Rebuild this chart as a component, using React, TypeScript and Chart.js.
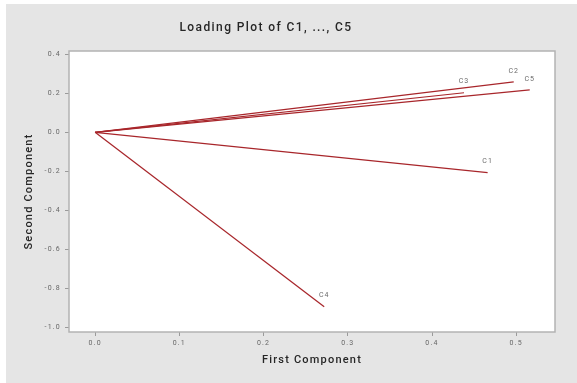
import { useEffect, useRef } from "react";
import { Chart, registerables } from "chart.js";

Chart.register(...registerables);

const variableNames = ["C1", "C2", "C3", "C4", "C5"];
const firstComponent = [0.466, 0.497, 0.438, 0.272, 0.516];
const secondComponent = [-0.207, 0.259, 0.203, -0.894, 0.218];
const xTickValues = [0, 0.1, 0.2, 0.3, 0.4, 0.5];
const yTickValues = [0.4, 0.2, 0, -0.2, -0.4, -0.6, -0.8, -1.0];
const chartTitle = "Loading Plot of C1, ..., C5";
const xAxisTitle = "First Component";
const yAxisTitle = "Second Component";

const LINE_COLOR = "#a8262b";
const FONT = "Roboto, 'Liberation Sans', sans-serif";

export default function App() {
  const canvasRef = useRef<HTMLCanvasElement | null>(null);

  useEffect(() => {
    const canvas = canvasRef.current;
    if (!canvas) return;

    const backgroundPlugin = {
      id: "bgFrame",
      beforeDraw(chart: any) {
        const { ctx, chartArea } = chart;
        ctx.save();
        ctx.fillStyle = "#e5e5e5";
        ctx.fillRect(6, 4, chart.width - 6, chart.height - 4);
        ctx.fillStyle = "#ffffff";
        ctx.fillRect(chartArea.left, chartArea.top, chartArea.right - chartArea.left, chartArea.bottom - chartArea.top);
        ctx.restore();
        ctx.letterSpacing = "1.2px";
        // main title
        ctx.save();
        ctx.letterSpacing = "1.4px";
        ctx.font = `500 12px ${FONT}`;
        ctx.fillStyle = "#262626";
        ctx.textAlign = "center";
        ctx.textBaseline = "middle";
        ctx.fillText(chartTitle, 266, 28);
        ctx.restore();
      },
      beforeDatasetsDraw(chart: any) {
        const { ctx, chartArea } = chart;
        ctx.save();
        ctx.strokeStyle = "#b3b3b3";
        ctx.lineWidth = 1.5;
        ctx.strokeRect(chartArea.left, chartArea.top, chartArea.right - chartArea.left, chartArea.bottom - chartArea.top);
        ctx.restore();
      },
      afterDatasetsDraw(chart: any) {
        const { ctx } = chart;
        const xs = chart.scales.x;
        const ys = chart.scales.y;
        ctx.save();
        ctx.letterSpacing = "1px";
        ctx.font = `7px ${FONT}`;
        ctx.fillStyle = "#6a6a6a";
        ctx.textAlign = "center";
        ctx.textBaseline = "middle";
        variableNames.forEach((name, i) => {
          const px = xs.getPixelForValue(firstComponent[i]);
          const py = ys.getPixelForValue(secondComponent[i]);
          ctx.fillText(name, px, py - 11);
        });
        ctx.restore();
      },
    };

    const datasets = variableNames.map((name, i) => ({
      label: name,
      data: [
        { x: 0, y: 0 },
        { x: firstComponent[i], y: secondComponent[i] },
      ],
      showLine: true,
      borderColor: LINE_COLOR,
      backgroundColor: LINE_COLOR,
      borderWidth: 1.2,
      pointRadius: 0,
    }));

    const chart = new Chart(canvas, {
      type: "scatter",
      data: { datasets },
      options: {
        animation: false,
        responsive: false,
        layout: { padding: { left: 14, right: 22, top: 51, bottom: 12 } },
        plugins: {
          legend: { display: false },
          title: { display: false, text: chartTitle },
          tooltip: { enabled: false },
        },
        scales: {
          x: {
            type: "linear",
            min: -0.031,
            max: 0.546,
            afterBuildTicks: (s: any) => {
              s.ticks = xTickValues.map((v) => ({ value: v }));
            },
            afterFit: (s: any) => {
              s.height = 39;
            },
            ticks: {
              callback: (v: any) => Number(v).toFixed(1),
              font: { size: 7, family: FONT },
              color: "#666666",
              padding: 3,
              maxRotation: 0,
            },
            grid: { drawOnChartArea: false, drawTicks: true, tickLength: 4, color: "#9a9a9a" },
            border: { display: false },
            title: {
              display: true,
              text: xAxisTitle,
              font: { size: 11, weight: "500", family: FONT },
              color: "#262626",
              padding: { top: 0, bottom: 4 },
            },
          },
          y: {
            type: "linear",
            min: -1.024,
            max: 0.417,
            afterBuildTicks: (s: any) => {
              s.ticks = yTickValues.map((v) => ({ value: v }));
            },
            afterFit: (s: any) => {
              s.width = 55;
            },
            ticks: {
              callback: (v: any) => Number(v).toFixed(1),
              font: { size: 7, family: FONT },
              color: "#666666",
              padding: 4,
            },
            grid: { drawOnChartArea: false, drawTicks: true, tickLength: 4, color: "#9a9a9a" },
            border: { display: false },
            title: {
              display: true,
              text: yAxisTitle,
              font: { size: 11, weight: "500", family: FONT },
              color: "#262626",
              padding: { top: 9, bottom: 0 },
            },
          },
        },
      },
      plugins: [backgroundPlugin],
    });

    return () => {
      chart.destroy();
    };
  }, []);

  return (
    <div style={{ position: "fixed", left: 0, top: 0, width: 577, height: 383, background: "#ffffff" }}>
      <canvas ref={canvasRef} width={577} height={383} style={{ display: "block" }} />
    </div>
  );
}
